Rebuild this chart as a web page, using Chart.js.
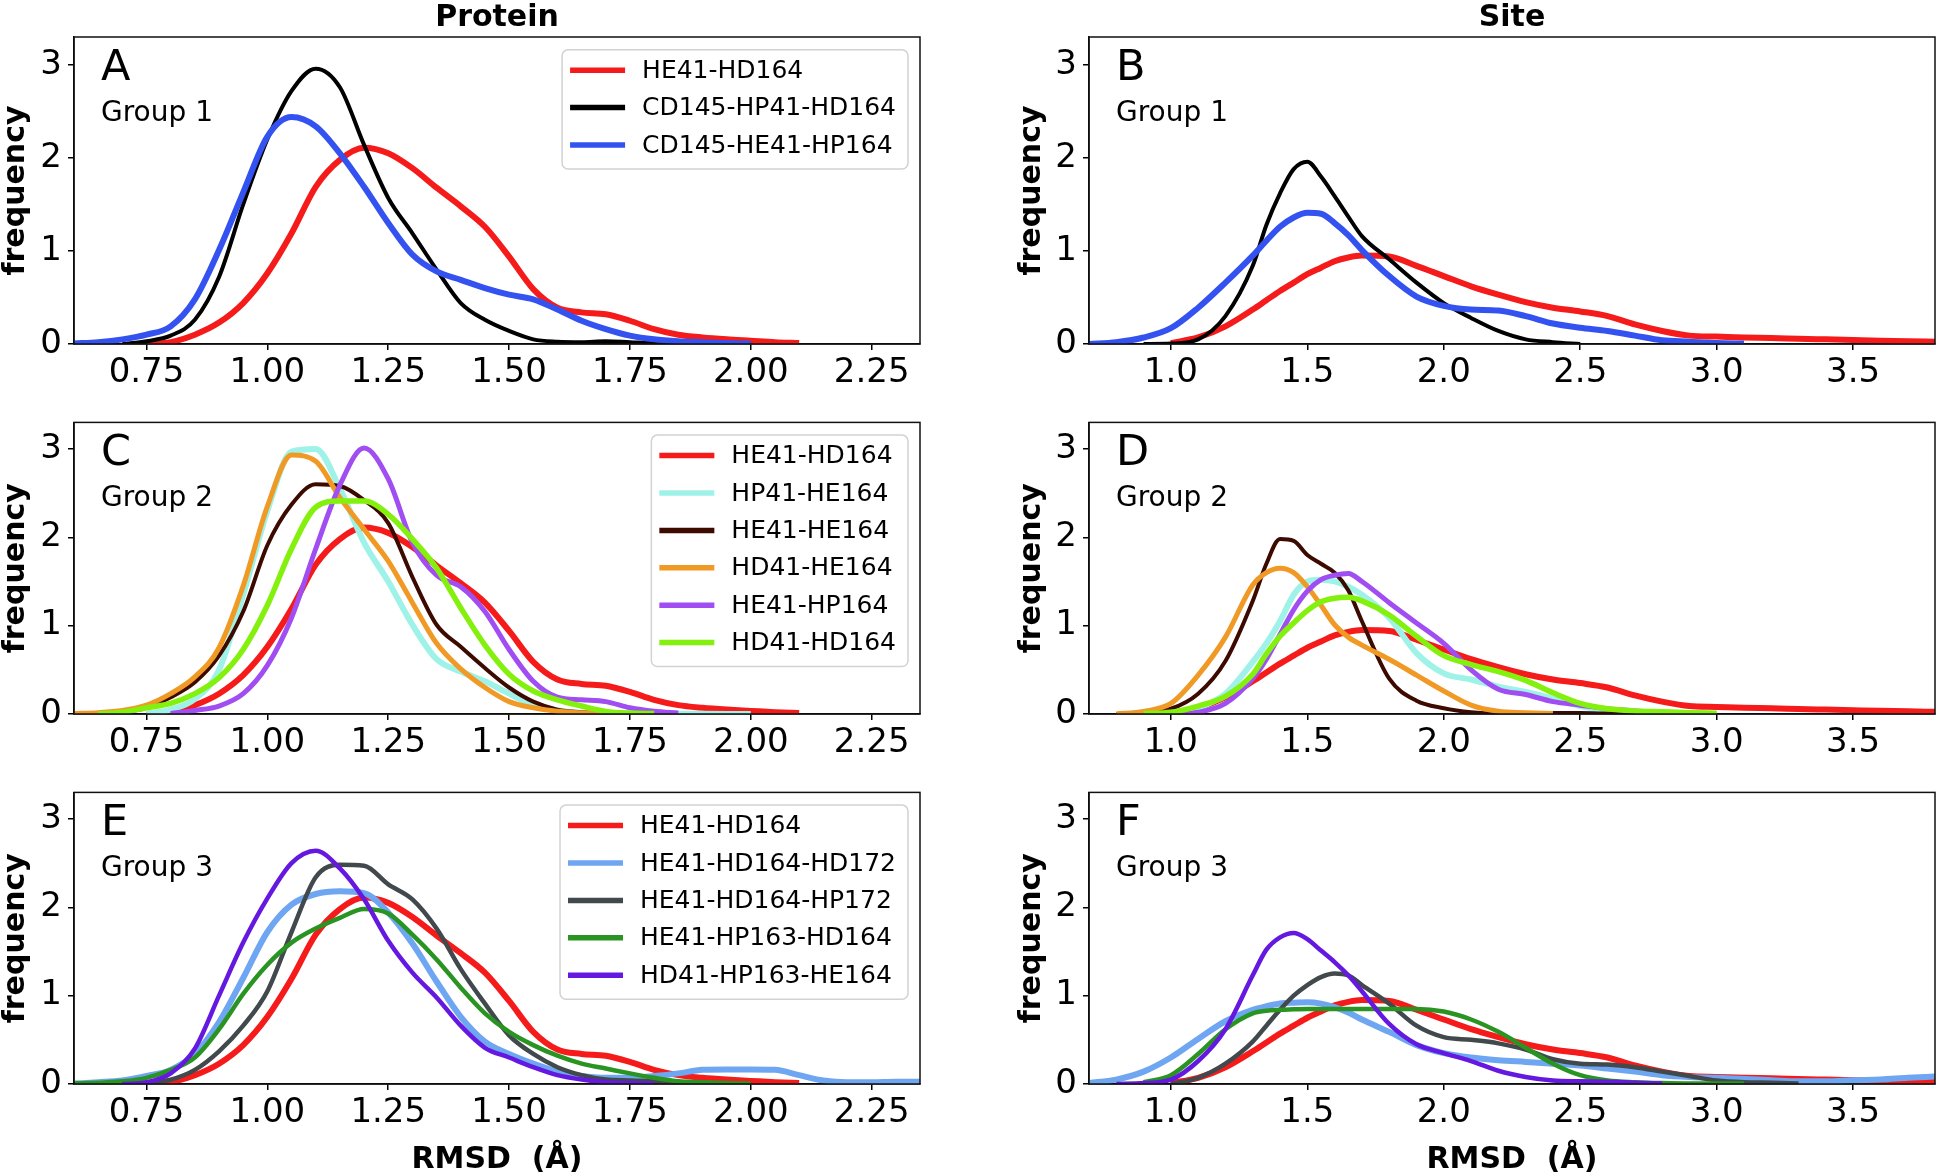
<!DOCTYPE html>
<html>
<head>
<meta charset="utf-8">
<title>RMSD distributions</title>
<script src="https://cdn.jsdelivr.net/npm/chart.js@4.4.1/dist/chart.umd.min.js"></script>
<style>
  html, body { margin: 0; padding: 0; background: #fff; }
  body { width: 1938px; height: 1175px; position: relative; overflow: hidden; }
  canvas { position: absolute; }
</style>
</head>
<body>
<canvas id="pA"></canvas>
<canvas id="pB"></canvas>
<canvas id="pC"></canvas>
<canvas id="pD"></canvas>
<canvas id="pE"></canvas>
<canvas id="pF"></canvas>
<script>
// =========================
// DATA
// =========================
const protX = [0.60,0.65,0.70,0.75,0.80,0.85,0.90,0.95,1.00,1.05,1.10,1.15,1.20,1.25,1.30,1.35,1.40,1.45,1.50,1.55,
               1.60,1.65,1.70,1.75,1.80,1.85,1.90,1.95,2.00,2.05,2.10,2.15,2.20,2.25,2.30,2.35];
const siteX = [0.70,0.80,0.90,1.00,1.10,1.20,1.30,1.35,1.40,1.45,1.50,1.55,1.60,1.65,1.70,1.80,1.90,2.00,2.10,2.20,
               2.30,2.40,2.50,2.60,2.70,2.80,2.90,3.00,3.10,3.20,3.30,3.40,3.50,3.60,3.70,3.80];
const protTicks = [0.75, 1.00, 1.25, 1.50, 1.75, 2.00, 2.25];
const siteTicks = [1.0, 1.5, 2.0, 2.5, 3.0, 3.5];
const yTicks = [0, 1, 2, 3];

// protein column (A, C, E)
const protRed = [null,null,null,0.0,0.02,0.10,0.23,0.44,0.76,1.19,1.69,1.98,2.11,2.05,1.89,1.68,1.48,1.26,0.94,0.59,
                 0.39,0.34,0.32,0.25,0.16,0.10,0.07,0.05,0.035,0.02,0.01,null,null,null,null,null];
const aBlack = [null,null,0.0,0.03,0.09,0.26,0.72,1.50,2.20,2.72,2.96,2.76,2.14,1.57,1.19,0.80,0.44,0.26,0.14,0.05,
                0.025,0.02,0.03,0.02,0.01,0.005,0.003,0.002,0.0,null,null,null,null,null,null,null];
const aBlue = [0.005,0.02,0.05,0.10,0.19,0.48,1.01,1.63,2.23,2.44,2.34,2.05,1.69,1.30,0.96,0.78,0.69,0.60,0.53,0.48,
               0.37,0.25,0.16,0.09,0.05,0.03,0.02,0.01,0.005,null,null,null,null,null,null,null];
const cCyan = [null,null,null,0.0,0.05,0.17,0.50,1.35,2.30,2.97,3.00,2.55,1.94,1.50,1.01,0.62,0.48,0.37,0.23,0.10,
               0.04,0.015,0.01,0.005,0.004,0.003,0.002,0.001,0.0,null,null,null,null,null,null,null];
const cBrown = [null,0.0,0.02,0.07,0.19,0.36,0.66,1.16,1.91,2.37,2.60,2.58,2.42,2.16,1.55,1.01,0.76,0.52,0.30,0.14,
                0.05,0.02,0.01,0.005,0.0,null,null,null,null,null,null,null,null,null,null,null];
const cOrange = [0.005,0.015,0.04,0.10,0.23,0.42,0.75,1.45,2.35,2.93,2.86,2.45,2.09,1.73,1.26,0.80,0.51,0.30,0.14,0.07,
                 0.03,0.015,0.005,0.0,null,null,null,null,null,null,null,null,null,null,null,null];
const cPurple = [null,null,null,null,0.005,0.04,0.09,0.23,0.55,1.09,1.87,2.59,3.01,2.66,1.94,1.57,1.44,1.16,0.73,0.37,
                 0.19,0.16,0.14,0.07,0.03,0.01,null,null,null,null,null,null,null,null,null,null];
const cLime = [null,0.0,0.02,0.07,0.12,0.23,0.41,0.73,1.23,1.87,2.34,2.41,2.41,2.26,1.98,1.65,1.20,0.78,0.45,0.26,
               0.16,0.09,0.03,0.01,0.005,null,null,null,null,null,null,null,null,null,null,null];
const eLight = [0.005,0.02,0.04,0.09,0.16,0.34,0.70,1.20,1.72,2.03,2.15,2.18,2.16,1.94,1.59,1.16,0.76,0.48,0.34,0.23,
                0.14,0.09,0.07,0.07,0.09,0.12,0.16,0.165,0.165,0.16,0.10,0.04,0.02,0.02,0.025,0.025];
const eGray = [null,null,0.0,0.015,0.05,0.16,0.37,0.66,1.05,1.72,2.34,2.48,2.47,2.26,2.09,1.76,1.30,0.91,0.55,0.34,
               0.19,0.10,0.05,0.04,0.03,0.015,0.005,null,null,null,null,null,null,null,null,null];
const eGreen = [0.005,0.015,0.03,0.07,0.16,0.30,0.62,1.02,1.35,1.60,1.76,1.88,1.98,1.93,1.69,1.41,1.09,0.80,0.59,0.44,
                0.32,0.23,0.175,0.12,0.07,0.03,0.02,0.01,0.005,null,null,null,null,null,null,null];
const eViolet = [null,null,0.0,0.02,0.12,0.40,1.00,1.60,2.10,2.50,2.64,2.44,2.09,1.62,1.26,0.98,0.66,0.41,0.30,0.19,
                 0.10,0.05,0.02,0.01,0.005,null,null,null,null,null,null,null,null,null,null,null];

// site column (B, D, F)
const siteRed = [null,null,null,0.01,0.07,0.19,0.37,0.47,0.57,0.66,0.75,0.82,0.89,0.93,0.95,0.94,0.84,0.73,0.62,0.53,
                 0.45,0.39,0.35,0.30,0.21,0.14,0.09,0.08,0.07,0.065,0.057,0.05,0.043,0.036,0.03,0.025];
const bBlack = [null,null,0.0,0.005,0.05,0.30,0.84,1.28,1.62,1.88,1.96,1.80,1.59,1.37,1.16,0.91,0.66,0.44,0.28,0.14,
                0.05,0.02,0.0,null,null,null,null,null,null,null,null,null,null,null,null,null];
const bBlue = [0.0,0.02,0.07,0.17,0.39,0.66,0.95,1.11,1.26,1.36,1.41,1.40,1.30,1.17,1.01,0.73,0.51,0.41,0.37,0.36,
               0.30,0.22,0.175,0.14,0.09,0.04,0.025,0.01,0.005,null,null,null,null,null,null,null];
const dCyan = [null,null,0.0,0.015,0.07,0.23,0.59,0.80,1.05,1.35,1.50,1.52,1.50,1.44,1.35,1.09,0.69,0.46,0.39,0.31,
               0.25,0.175,0.09,0.04,0.02,0.01,0.005,0.0,null,null,null,null,null,null,null,null];
const dBrown = [null,0.0,0.02,0.06,0.23,0.60,1.28,1.70,1.98,1.96,1.80,1.70,1.60,1.40,1.05,0.40,0.15,0.065,0.02,0.005,
                0.005,0.01,0.01,0.005,0.0,null,null,null,null,null,null,null,null,null,null,null];
const dOrange = [null,0.0,0.03,0.12,0.44,0.87,1.46,1.60,1.65,1.60,1.44,1.23,1.01,0.87,0.78,0.62,0.44,0.26,0.10,0.03,
                 0.015,0.005,null,null,null,null,null,null,null,null,null,null,null,null,null,null];
const dPurple = [null,null,null,0.0,0.02,0.12,0.40,0.62,0.90,1.18,1.39,1.52,1.57,1.59,1.50,1.26,1.03,0.80,0.50,0.28,
                 0.22,0.14,0.10,0.06,0.035,0.015,0.005,null,null,null,null,null,null,null,null,null];
const dLime = [null,null,0.005,0.02,0.09,0.20,0.45,0.68,0.88,1.03,1.17,1.27,1.31,1.32,1.28,1.12,0.88,0.66,0.56,0.48,
               0.38,0.24,0.12,0.06,0.035,0.025,0.015,0.008,null,null,null,null,null,null,null,null];
const fLight = [0.01,0.05,0.14,0.30,0.51,0.71,0.84,0.88,0.91,0.92,0.925,0.91,0.87,0.81,0.73,0.59,0.44,0.35,0.30,0.27,
                0.25,0.23,0.21,0.175,0.14,0.10,0.08,0.07,0.057,0.043,0.03,0.03,0.043,0.05,0.07,0.085];
const fGray = [null,null,null,0.0,0.07,0.23,0.48,0.66,0.84,1.00,1.12,1.21,1.25,1.23,1.12,0.91,0.66,0.53,0.50,0.46,
               0.39,0.28,0.23,0.22,0.19,0.14,0.09,0.04,0.02,0.015,0.005,null,null,null,null,null];
const fGreen = [null,null,0.02,0.10,0.34,0.62,0.80,0.83,0.84,0.845,0.85,0.85,0.85,0.85,0.85,0.85,0.85,0.82,0.73,0.59,
                0.41,0.23,0.10,0.04,0.02,0.01,0.005,0.005,0.005,null,null,null,null,null,null,null];
const fViolet = [null,0.0,0.01,0.05,0.26,0.62,1.23,1.52,1.66,1.71,1.64,1.51,1.38,1.23,1.05,0.68,0.45,0.35,0.26,0.15,
                 0.08,0.04,0.03,0.025,0.015,0.005,null,null,null,null,null,null,null,null,null,null];

// =========================
// STYLE
// =========================
const FONT = "'DejaVu Sans', sans-serif";
const COL = {
    red: "#f51b1b", black: "#000000", blue: "#3452f0",
    cyan: "#9ff2e8", brown: "#3d0a00", orange: "#f09a25", purple: "#a04ef2", lime: "#84f00e",
    lblue: "#6fa6f2", gray: "#41494d", green: "#2a9423", violet: "#6418e0"
};
const LW = {
    red: 6, black: 4, blue: 6, cyan: 6, brown: 4, orange: 5, purple: 5, lime: 5.5,
    lblue: 6, gray: 4.5, green: 4.5, violet: 4.5
};

const cols = [
    { left: 0, width: 930, axisW: 74, padR: 10 },
    { left: 1016, width: 922, axisW: 73, padR: 3 }
];
const rows = [
    { top: 0, padT: 37, plotH: 307, axisH: 46 },
    { top: 396, padT: 10, plotH: 308, axisH: 46 },
    { top: 766, padT: 10, plotH: 308, axisH: 91 }
];

const panels = [
    { id: "pA", col: 0, row: 0, letter: "A", group: "Group 1", title: "Protein", legend: true,
      series: [["HE41-HD164", protRed, "red"], ["CD145-HP41-HD164", aBlack, "black"], ["CD145-HE41-HP164", aBlue, "blue"]] },
    { id: "pB", col: 1, row: 0, letter: "B", group: "Group 1", title: "Site", legend: false,
      series: [["HE41-HD164", siteRed, "red"], ["CD145-HP41-HD164", bBlack, "black"], ["CD145-HE41-HP164", bBlue, "blue"]] },
    { id: "pC", col: 0, row: 1, letter: "C", group: "Group 2", legend: true,
      series: [["HE41-HD164", protRed, "red"], ["HP41-HE164", cCyan, "cyan"], ["HE41-HE164", cBrown, "brown"],
               ["HD41-HE164", cOrange, "orange"], ["HE41-HP164", cPurple, "purple"], ["HD41-HD164", cLime, "lime"]] },
    { id: "pD", col: 1, row: 1, letter: "D", group: "Group 2", legend: false,
      series: [["HE41-HD164", siteRed, "red"], ["HP41-HE164", dCyan, "cyan"], ["HE41-HE164", dBrown, "brown"],
               ["HD41-HE164", dOrange, "orange"], ["HE41-HP164", dPurple, "purple"], ["HD41-HD164", dLime, "lime"]] },
    { id: "pE", col: 0, row: 2, letter: "E", group: "Group 3", legend: true, xlabel: true,
      series: [["HE41-HD164", protRed, "red"], ["HE41-HD164-HD172", eLight, "lblue"], ["HE41-HD164-HP172", eGray, "gray"],
               ["HE41-HP163-HD164", eGreen, "green"], ["HD41-HP163-HE164", eViolet, "violet"]] },
    { id: "pF", col: 1, row: 2, letter: "F", group: "Group 3", legend: false, xlabel: true,
      series: [["HE41-HD164", siteRed, "red"], ["HE41-HD164-HD172", fLight, "lblue"], ["HE41-HD164-HP172", fGray, "gray"],
               ["HE41-HP163-HD164", fGreen, "green"], ["HD41-HP163-HE164", fViolet, "violet"]] }
];

// =========================
// FRAME, LABELS, LEGEND
// =========================
function drawLegend(ctx, a, items) {
    ctx.font = `25px ${FONT}`;
    const maxW = Math.max(...items.map(it => ctx.measureText(it[0]).width));
    const w = 8 + 55 + 17 + maxW + 12;
    const h = 20.5 + (items.length - 1) * 37.4 + 24;
    const right = a.right - 12;
    const left = right - w;
    const top = a.top + 12.7;

    ctx.beginPath();
    ctx.roundRect(left, top, w, h, 6);
    ctx.fillStyle = "rgba(255,255,255,0.85)";
    ctx.fill();
    ctx.strokeStyle = "#d2d2d2";
    ctx.lineWidth = 1.5;
    ctx.stroke();

    items.forEach((it, i) => {
        const y = top + 20.5 + i * 37.4;
        ctx.beginPath();
        ctx.moveTo(left + 8, y);
        ctx.lineTo(left + 63, y);
        ctx.strokeStyle = COL[it[2]];
        ctx.lineWidth = 5.5;
        ctx.stroke();
        ctx.fillStyle = "#000";
        ctx.textAlign = "left";
        ctx.textBaseline = "middle";
        ctx.fillText(it[0], left + 80, y + 1);
    });
}

const decor = {
    id: "decor",
    afterDatasetsDraw(chart, args, o) {
        const ctx = chart.ctx;
        const a = chart.chartArea;
        const cx = (a.left + a.right) / 2;
        ctx.save();

        ctx.strokeStyle = "#111";
        ctx.lineWidth = 1.5;
        ctx.strokeRect(a.left, a.top, a.right - a.left, a.bottom - a.top);

        ctx.fillStyle = "#000";
        ctx.textAlign = "left";
        ctx.textBaseline = "alphabetic";
        ctx.font = `43px ${FONT}`;
        ctx.fillText(o.letter, a.left + 27, a.top + 43);
        ctx.font = `28px ${FONT}`;
        ctx.fillText(o.group, a.left + 27, a.top + 84);

        ctx.save();
        ctx.translate(16, (a.top + a.bottom) / 2);
        ctx.rotate(-Math.PI / 2);
        ctx.font = `bold 30px ${FONT}`;
        ctx.textAlign = "center";
        ctx.textBaseline = "middle";
        ctx.fillText("frequency", 0, 0);
        ctx.restore();

        ctx.font = `bold 30px ${FONT}`;
        ctx.textAlign = "center";
        ctx.textBaseline = "alphabetic";
        if (o.title) ctx.fillText(o.title, cx, 26);
        if (o.xlabel) ctx.fillText("RMSD  (\u00C5)", cx, a.bottom + 84);

        if (o.legend) drawLegend(ctx, a, o.items);
        ctx.restore();
    }
};

// =========================
// BUILD CHARTS
// =========================
function buildPanel(p) {
    const col = cols[p.col];
    const row = rows[p.row];
    const site = p.col === 1;
    const xs = site ? siteX : protX;
    const xt = site ? siteTicks : protTicks;

    const canvas = document.getElementById(p.id);
    canvas.width = col.width;
    canvas.height = row.padT + row.plotH + row.axisH;
    canvas.style.left = col.left + "px";
    canvas.style.top = row.top + "px";

    const n = p.series.length;
    const datasets = p.series.map((s, i) => ({
        label: s[0],
        data: xs.map((x, k) => ({ x: x, y: s[1][k] })),
        borderColor: COL[s[2]],
        borderWidth: LW[s[2]],
        pointRadius: 0,
        fill: false,
        cubicInterpolationMode: "monotone",
        spanGaps: false,
        clip: 0,
        order: n - i
    }));

    const tickFont = { family: FONT, size: 34 };
    const axisGrid = { drawOnChartArea: false, drawTicks: true, tickLength: 6, color: "#000", lineWidth: 1.5 };

    new Chart(canvas.getContext("2d"), {
        type: "line",
        data: { datasets: datasets },
        options: {
            responsive: false,
            animation: false,
            devicePixelRatio: 1,
            layout: { autoPadding: false, padding: { left: 0, top: row.padT, right: col.padR, bottom: 0 } },
            plugins: {
                legend: { display: false },
                tooltip: { enabled: false },
                decor: { letter: p.letter, group: p.group, title: p.title, xlabel: p.xlabel,
                         legend: p.legend, items: p.series }
            },
            scales: {
                x: {
                    type: "linear",
                    min: site ? 0.7 : 0.6,
                    max: site ? 3.8 : 2.35,
                    afterBuildTicks: s => { s.ticks = xt.map(v => ({ value: v })); },
                    afterFit: s => { s.height = row.axisH; },
                    ticks: {
                        callback: v => v.toFixed(site ? 1 : 2),
                        font: tickFont, color: "#000", padding: 3, maxRotation: 0, autoSkip: false
                    },
                    grid: axisGrid,
                    border: { display: true, color: "#000", width: 1.5 }
                },
                y: {
                    type: "linear",
                    min: 0,
                    max: 3.3,
                    afterBuildTicks: s => { s.ticks = yTicks.map(v => ({ value: v })); },
                    afterFit: s => { s.width = col.axisW; },
                    ticks: { font: tickFont, color: "#000", padding: 6 },
                    grid: axisGrid,
                    border: { display: true, color: "#000", width: 1.5 }
                }
            }
        },
        plugins: [decor]
    });
}

panels.forEach(buildPanel);
</script>
</body>
</html>
